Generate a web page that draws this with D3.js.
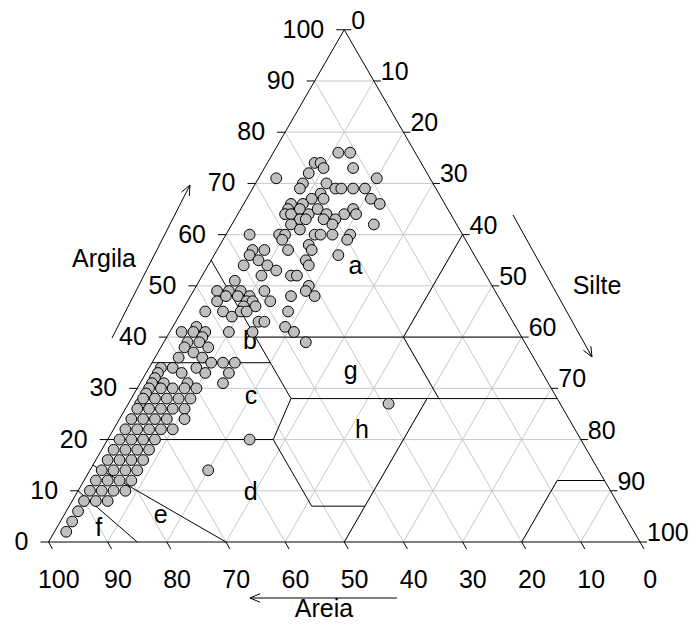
<!DOCTYPE html>
<html>
<head>
<meta charset="utf-8">
<script src="https://cdn.jsdelivr.net/npm/d3@7"></script>
<style>
body { margin: 0; background: #fff; }
text { font-family: Arial, "Liberation Sans", sans-serif; font-size: 25px; fill: #000; }
</style>
</head>
<body>
<div id="chart"></div>
<script>
// tick / grid values (percent)
var tickValues = [0, 10, 20, 30, 40, 50, 60, 70, 80, 90, 100];
var gridValues = [10, 20, 30, 40, 50, 60, 70, 80, 90];

// samples as [argila, silte]  (areia = 100 - argila - silte)
var amostrasAltas = [
  [76,11],[76,13],[74,8],[74,9],[73,10],[73,15],[71,3],[72,8],[71,20],[70,8],
  [69,8],[70,12],[69,14],[69,15],[69,17],[69,19],[68,12],[67,11],[67,13],[67,21],
  [66,23],[66,10],[66,8],[65,8],[64,8],[64,9],[65,10],[64,12],[65,13],[64,15],
  [64,18],[65,19],[64,20],[63,11],[62,10],[63,12],[63,15],[63,17],[62,17],[61,12],
  [62,24],[60,4],[60,9],[60,10],[59,10],[60,15],[60,16],[60,18],[60,21],[59,21],
  [58,15]
];
var amostrasMedias = [
  [57,6],[57,8],[56,6],[55,8],[54,6],[54,10],[53,12],[52,10],[57,12],[57,16],
  [55,16],[54,17],[52,15],[52,16],[51,6],[49,4],[49,6],[49,8],[48,10],[49,12],
  [47,5],[48,6],[48,8],[47,10],[47,11],[46,12],[46,10],[47,14],[48,17],[50,19],
  [49,19],[48,21],[45,4],[45,7],[44,9],[45,10],[45,11],[45,18],[43,14],[43,15],
  [41,14],[41,10],[42,19],[41,21],[39,24],[56,21]
];
var amostrasBaixas = [
  [41,2],[42,4],[41,4],[41,6],[40,6],[39,4],[39,6],[38,8],[38,4],[37,6],
  [36,4],[36,8],[35,10],[35,12],[35,14],[34,4],[34,2],[33,6],[34,8],[33,10],
  [33,14],[31,14],[33,2],[32,2],[31,4],[31,2],[30,6],[30,4],[31,8],[30,8],
  [30,10],[30,2],[29,2],[27,2],
  [28,2],[28,4],[28,6],[28,8],[28,10],
  [26,2],[26,4],[26,6],[26,8],[26,10],
  [24,2],[24,4],[24,6],[24,8],[24,11],
  [22,2],[22,4],[22,6],[22,8],[22,10],
  [20,2],[20,4],[20,6],[20,8],
  [18,2],[18,4],[18,6],[18,8],
  [16,2],[16,4],[16,6],[16,8],
  [14,2],[14,4],[14,6],[14,8],
  [12,2],[12,4],[12,6],[12,8],
  [10,2],[10,4],[10,6],[10,8],
  [8,2],[8,4],[8,6],
  [6,2],[4,2],[2,2],
  [20,24],[14,20],[27,44]
];

// class boundaries: [argila1, silte1, argila2, silte2]
var limites = [
  [40,15, 40,60],
  [40,40, 60,40],
  [55,0, 28,27],
  [35,0, 35,20],
  [40,40, 28,52],
  [28,27, 28,72],
  [28,27, 20,28],
  [20,0, 20,28],
  [20,28, 7,41],
  [7,41, 7,50],
  [0,50, 28,50],
  [0,80, 12,80],
  [12,80, 12,88],
  [0,30, 15,0],
  [0,15, 10,0]
];

// class letters and their anchor in [argila, silte]
var classes = ["a", "b", "c", "d", "e", "f", "g", "h"];
var classeArgila = [54, 39.5, 28.7, 10, 5.5, 3, 33.6, 22];
var classeSilte = [24.9, 14.3, 19.9, 29.2, 16.2, 7, 34.3, 42];

var width = 694, height = 628;
var svg = d3.select("#chart").append("svg")
  .attr("width", width)
  .attr("height", height);

var left = 48.5, right = 640, base = 542;
var side = right - left;
var tri = side * Math.sqrt(3) / 2;

var xScale = d3.scaleLinear().domain([0, 100]).range([left, right]);
var yScale = d3.scaleLinear().domain([0, 100]).range([base, base - tri]);

function pos(argila, silte) {
  return [xScale(silte + argila / 2), yScale(argila)];
}

function seg(g, a, b, color) {
  g.append("line")
    .attr("x1", a[0]).attr("y1", a[1])
    .attr("x2", b[0]).attr("y2", b[1])
    .attr("stroke", color)
    .attr("stroke-width", 1);
}

// grid
var grid = svg.append("g");
gridValues.forEach(function(v) {
  seg(grid, pos(v, 0), pos(v, 100 - v), "#c8c8c8");
  seg(grid, pos(0, v), pos(100 - v, v), "#c8c8c8");
  seg(grid, pos(0, 100 - v), pos(100 - v, 0), "#c8c8c8");
});

// class boundaries
var lim = svg.append("g");
limites.forEach(function(d) {
  seg(lim, pos(d[0], d[1]), pos(d[2], d[3]), "#000");
});

// triangle border
svg.append("path")
  .attr("d", d3.line()([pos(0, 0), pos(0, 100), pos(100, 0), pos(0, 0)]))
  .attr("fill", "none")
  .attr("stroke", "#000")
  .attr("stroke-width", 1);

// ticks + labels
var ax = svg.append("g");
tickValues.forEach(function(v) {
  // argila (left)
  var p = pos(v, 0);
  seg(ax, p, [p[0] - 8, p[1]], "#000");
  ax.append("text").attr("x", p[0] - 20).attr("y", p[1] - 1)
    .attr("text-anchor", "end").attr("dominant-baseline", "central").text(v);
  // silte (right)
  var q = pos(100 - v, v);
  seg(ax, q, [q[0] + 7, q[1]], "#000");
  ax.append("text").attr("x", q[0] + 7).attr("y", q[1] - 1)
    .attr("text-anchor", "start").text(v);
  // areia (bottom)
  var r = pos(0, 100 - v);
  seg(ax, r, [r[0] + 4, r[1] + 7], "#000");
  ax.append("text").attr("x", r[0] + 10.3).attr("y", 579)
    .attr("text-anchor", "middle").attr("dominant-baseline", "central").text(v);
});

// axis titles with arrows
function arrow(x1, y1, x2, y2) {
  seg(svg, [x1, y1], [x2, y2], "#000");
  var ang = Math.atan2(y1 - y2, x1 - x2);
  [-0.4, 0.4].forEach(function(da) {
    seg(svg, [x2, y2], [x2 + 11 * Math.cos(ang + da), y2 + 11 * Math.sin(ang + da)], "#000");
  });
}
arrow(112, 338, 190, 185);
arrow(513, 215, 592, 357);
arrow(397, 598, 250, 598);

svg.append("text").attr("x", 104).attr("y", 258).attr("text-anchor", "middle")
  .attr("dominant-baseline", "central").text("Argila");
svg.append("text").attr("x", 597).attr("y", 285).attr("text-anchor", "middle")
  .attr("dominant-baseline", "central").text("Silte");
svg.append("text").attr("x", 324).attr("y", 608).attr("text-anchor", "middle")
  .attr("dominant-baseline", "central").text("Areia");

// class letters
classes.forEach(function(c, i) {
  var p = pos(classeArgila[i], classeSilte[i]);
  svg.append("text").attr("x", p[0]).attr("y", p[1])
    .attr("text-anchor", "middle").attr("dominant-baseline", "central").text(c);
});

// points
var amostras = amostrasAltas.concat(amostrasMedias, amostrasBaixas);
svg.append("g").selectAll("circle")
  .data(amostras)
  .join("circle")
  .attr("cx", function(d) { return pos(d[0], d[1])[0]; })
  .attr("cy", function(d) { return pos(d[0], d[1])[1]; })
  .attr("r", 5.4)
  .attr("fill", "#bfbfbf")
  .attr("stroke", "#000")
  .attr("stroke-width", 1);
</script>
</body>
</html>
